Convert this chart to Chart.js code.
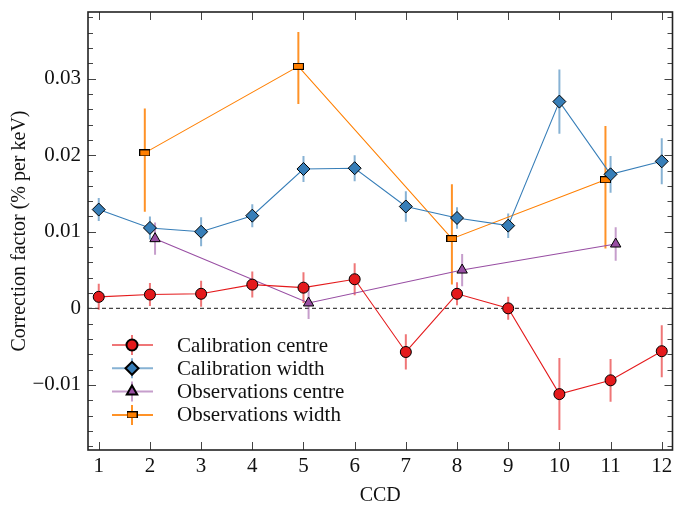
<!DOCTYPE html>
<html>
<head>
<meta charset="utf-8">
<script src="https://cdn.jsdelivr.net/npm/chart.js@4.4.1/dist/chart.umd.min.js"></script>
<style>
  html, body { margin: 0; padding: 0; background: #fff; }
</style>
</head>
<body>
<canvas id="chart" width="680" height="506"></canvas>
<script>
// --- data ---
const ccds = [1, 2, 3, 4, 5, 6, 7, 8, 9, 10, 11, 12];

const calCentre    = [0.0015, 0.0018, 0.0019, 0.0031, 0.0027, 0.0038, -0.0057, 0.0019, 0.0000, -0.0112, -0.0094, -0.0056];
const calCentreErr = [0.0017, 0.0015, 0.0017, 0.0017, 0.0020, 0.0021, 0.0023, 0.0015, 0.0015, 0.0047, 0.0028, 0.0034];

const calWidth    = [0.0129, 0.0105, 0.0100, 0.0121, 0.0182, 0.0183, 0.0133, 0.0118, 0.0108, 0.0270, 0.0175, 0.0192];
const calWidthErr = [0.0015, 0.0015, 0.0019, 0.0015, 0.0017, 0.0017, 0.0020, 0.0014, 0.0016, 0.0042, 0.0024, 0.0030];

const obsCentreX   = [2.1, 5.1, 8.1, 11.1];
const obsCentre    = [0.0091, 0.0007, 0.0050, 0.0084];
const obsCentreErr = [0.0021, 0.0021, 0.0021, 0.0022];

const obsWidthX     = [1.9, 4.9, 7.9, 10.9];
const obsWidth      = [0.0203, 0.0316, 0.0091, 0.0168];
const obsWidthErrLo = [0.0077, 0.0049, 0.0060, 0.0090];
const obsWidthErrHi = [0.0058, 0.0045, 0.0071, 0.0070];

const yTickValues = [-0.01, 0, 0.01, 0.02, 0.03];
const yTickLabels = ['\u22120.01', '0', '0.01', '0.02', '0.03'];

const FONT = "'Liberation Serif', 'Times New Roman', serif";

// small horizontal bar marker for the observations width points
function rectMarker(w, h, fill) {
  const c = document.createElement('canvas');
  c.width = w; c.height = h;
  const g = c.getContext('2d');
  g.fillStyle = fill;
  g.fillRect(0, 0, w, h);
  g.strokeStyle = '#000';
  g.lineWidth = 1;
  g.strokeRect(0.5, 0.5, w - 1, h - 1);
  return c;
}

const pts = (xs, ys) => xs.map((x, i) => ({ x: x, y: ys[i] }));

// dashed zero line + vertical error bars, under the lines and markers
const errorBars = {
  id: 'errorBars',
  beforeDatasetsDraw(chart) {
    const { ctx, chartArea: a, scales: { x, y } } = chart;
    ctx.save();
    ctx.beginPath();
    ctx.rect(a.left, a.top, a.width, a.height);
    ctx.clip();

    const y0 = y.getPixelForValue(0);
    ctx.strokeStyle = '#444';
    ctx.lineWidth = 1.2;
    ctx.setLineDash([4, 3]);
    ctx.beginPath();
    ctx.moveTo(a.left, y0);
    ctx.lineTo(a.right, y0);
    ctx.stroke();
    ctx.setLineDash([]);

    for (let i = chart.data.datasets.length - 1; i >= 0; i--) {
      const ds = chart.data.datasets[i];
      ctx.strokeStyle = ds.errColor;
      ctx.lineWidth = 2;
      ds.data.forEach((p, j) => {
        const px = x.getPixelForValue(p.x);
        ctx.beginPath();
        ctx.moveTo(px, y.getPixelForValue(p.y - ds.errLo[j]));
        ctx.lineTo(px, y.getPixelForValue(p.y + ds.errHi[j]));
        ctx.stroke();
      });
    }
    ctx.restore();
  }
};

// legend inside the plot, lower left
const innerLegend = {
  id: 'innerLegend',
  afterDraw(chart) {
    const { ctx, chartArea: a } = chart;
    const x0 = a.left + 24, x1 = a.left + 65, xm = a.left + 44, xt = a.left + 89;
    ctx.save();
    ctx.font = '21px ' + FONT;
    ctx.textBaseline = 'middle';
    ctx.textAlign = 'left';
    chart.data.datasets.forEach((ds, i) => {
      const ry = a.bottom - 105 + i * 23.3;
      ctx.strokeStyle = ds.errColor;
      ctx.lineWidth = 2;
      ctx.beginPath();
      ctx.moveTo(x0, ry); ctx.lineTo(x1, ry);
      ctx.moveTo(xm, ry - 10); ctx.lineTo(xm, ry + 10);
      ctx.stroke();
      ctx.fillStyle = ds.pointBackgroundColor;
      ctx.strokeStyle = '#000';
      Chart.helpers.drawPoint(ctx, {
        pointStyle: ds.pointStyle, radius: ds.pointRadius, rotation: 0, borderWidth: 1
      }, xm, ry);
      ctx.fillStyle = '#111';
      ctx.fillText(ds.label, xt, ry + 1);
    });
    ctx.restore();
  }
};

// box frame with inward ticks on all four sides
const frame = {
  id: 'frame',
  afterDraw(chart) {
    const { ctx, chartArea: a, scales: { x, y } } = chart;
    ctx.save();
    ctx.strokeStyle = '#444';
    ctx.lineWidth = 1;
    ctx.beginPath();
    x.ticks.forEach(t => {
      const px = Math.round(x.getPixelForValue(t.value)) + 0.5;
      ctx.moveTo(px, a.bottom); ctx.lineTo(px, a.bottom - 8);
      ctx.moveTo(px, a.top); ctx.lineTo(px, a.top + 8);
    });
    for (let k = -9; k <= 19; k++) {
      const py = Math.round(y.getPixelForValue(k * 0.002)) + 0.5;
      const len = k % 5 === 0 ? 8 : 5;
      ctx.moveTo(a.left, py); ctx.lineTo(a.left + len, py);
      ctx.moveTo(a.right, py); ctx.lineTo(a.right - len, py);
    }
    ctx.stroke();
    ctx.strokeStyle = '#222';
    ctx.lineWidth = 1.6;
    ctx.strokeRect(a.left, a.top, a.right - a.left, a.bottom - a.top);
    ctx.restore();
  }
};

const red = '#e41a1c', blue = '#377eb8', purple = '#984ea3', orange = '#ff7f00';

new Chart(document.getElementById('chart'), {
  type: 'line',
  data: {
    datasets: [
      {
        label: 'Calibration centre',
        data: pts(ccds, calCentre),
        errLo: calCentreErr, errHi: calCentreErr,
        borderColor: red, errColor: 'rgba(228,26,28,0.6)',
        pointStyle: 'circle', pointRadius: 5.5,
        pointBackgroundColor: red
      },
      {
        label: 'Calibration width',
        data: pts(ccds, calWidth),
        errLo: calWidthErr, errHi: calWidthErr,
        borderColor: blue, errColor: 'rgba(55,126,184,0.6)',
        pointStyle: 'rectRot', pointRadius: 6.5,
        pointBackgroundColor: blue
      },
      {
        label: 'Observations centre',
        data: pts(obsCentreX, obsCentre),
        errLo: obsCentreErr, errHi: obsCentreErr,
        borderColor: purple, errColor: 'rgba(152,78,163,0.55)',
        pointStyle: 'triangle', pointRadius: 6,
        pointBackgroundColor: purple
      },
      {
        label: 'Observations width',
        data: pts(obsWidthX, obsWidth),
        errLo: obsWidthErrLo, errHi: obsWidthErrHi,
        borderColor: orange, errColor: 'rgba(255,127,0,0.85)',
        pointStyle: rectMarker(11, 7, orange), pointRadius: 5,
        pointBackgroundColor: orange
      }
    ].map(d => Object.assign({
      borderWidth: 1.1,
      tension: 0,
      fill: false,
      pointBorderColor: '#000',
      pointBorderWidth: 1,
      pointHoverRadius: d.pointRadius
    }, d))
  },
  options: {
    responsive: false,
    animation: false,
    layout: { padding: { left: 0, right: 2, top: 12, bottom: 0 } },
    plugins: {
      legend: { display: false },
      tooltip: { enabled: false }
    },
    scales: {
      x: {
        type: 'linear',
        min: 0.79,
        max: 12.21,
        afterBuildTicks: s => { s.ticks = ccds.map(v => ({ value: v })); },
        afterFit: s => { s.height = 56; },
        grid: { display: false, drawTicks: false },
        border: { display: false },
        ticks: { padding: 4, color: '#111', font: { family: FONT, size: 21 }, maxRotation: 0 },
        title: {
          display: true, text: 'CCD', color: '#111',
          font: { family: FONT, size: 20, lineHeight: 1 },
          padding: { top: 0, bottom: 0 }
        }
      },
      y: {
        type: 'linear',
        min: -0.0185,
        max: 0.0387,
        afterBuildTicks: s => { s.ticks = yTickValues.map(v => ({ value: v })); },
        afterFit: s => { s.width = 88; },
        grid: { display: false, drawTicks: false },
        border: { display: false },
        ticks: {
          padding: 7, color: '#111', font: { family: FONT, size: 21, lineHeight: 0.4 },
          callback: v => {
            const i = yTickValues.findIndex(t => Math.abs(t - v) < 1e-9);
            return i >= 0 ? yTickLabels[i] : '';
          }
        },
        title: {
          display: true, text: 'Correction factor (% per keV)', color: '#111',
          font: { family: FONT, size: 20, lineHeight: 1 },
          padding: { top: 10, bottom: 0 }
        }
      }
    }
  },
  plugins: [errorBars, innerLegend, frame]
});
</script>
</body>
</html>
